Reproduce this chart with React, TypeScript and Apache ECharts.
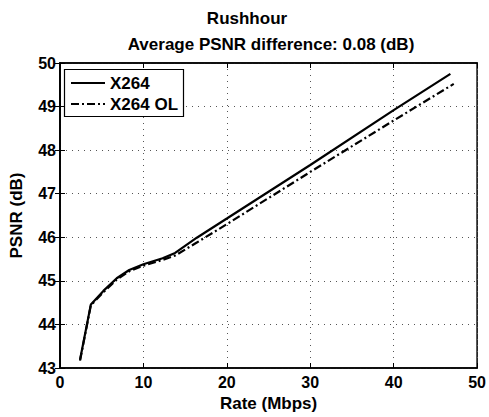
import React, { useEffect, useRef } from "react";
import * as echarts from "echarts";

const titleMain = "Rushhour";
const titleSub = "Average PSNR difference: 0.08 (dB)";
const seriesNames = ["X264", "X264 OL"];
const xTicks = [0, 10, 20, 30, 40, 50];
const yTicks = [43, 44, 45, 46, 47, 48, 49, 50];

const x264: [number, number][] = [
  [2.4, 43.19], [3.7, 44.46], [5.2, 44.77], [6.8, 45.06], [8.3, 45.25],
  [10, 45.38], [12.3, 45.52], [13.8, 45.64], [16.4, 45.99], [20, 46.43],
  [30, 47.66], [40, 48.92], [46.8, 49.75],
];
const x264ol: [number, number][] = [
  [2.4, 43.17], [3.7, 44.44], [5.2, 44.74], [6.8, 45.03], [8.3, 45.22],
  [10, 45.35], [12.3, 45.48], [13.8, 45.58], [16.4, 45.88], [20, 46.3],
  [30, 47.5], [40, 48.68], [47.2, 49.52],
];

const FONT = "Liberation Sans";
const DASHDOT = [8, 3, 2, 3];

export default function App() {
  const ref = useRef<HTMLDivElement>(null);
  useEffect(() => {
    if (!ref.current) return;
    const chart = echarts.init(ref.current, null, { renderer: "svg" });
    const gridLine = { show: true, lineStyle: { color: "#555", type: [1, 5], width: 1 } };
    const tickIn = { show: true, inside: true, length: 5, lineStyle: { color: "#000", width: 1 } };
    const nameStyle = { fontFamily: FONT, fontWeight: "bold", fontSize: 17, color: "#000" };
    const lblStyle = { fontFamily: FONT, fontWeight: "bold", fontSize: 16, color: "#000" };
    chart.setOption({
      animation: false,
      backgroundColor: "#fff",
      textStyle: { fontFamily: FONT },
      graphic: [
        { type: "text", x: 247, y: 18, style: { text: titleMain, font: `bold 17px ${FONT}`, fill: "#000", textAlign: "center", textVerticalAlign: "middle" } },
        { type: "text", x: 271, y: 44, style: { text: titleSub, font: `bold 17px ${FONT}`, fill: "#000", textAlign: "center", textVerticalAlign: "middle" } },
        { type: "rect", shape: { x: 64.5, y: 69.5, width: 119, height: 47 }, style: { fill: "#fff", stroke: "#000", lineWidth: 1.2 }, z: 100 },
        { type: "line", shape: { x1: 71, y1: 83, x2: 105, y2: 83 }, style: { stroke: "#000", lineWidth: 2.2 }, z: 101 },
        { type: "line", shape: { x1: 71, y1: 104, x2: 105, y2: 104 }, style: { stroke: "#000", lineWidth: 2.2, lineDash: DASHDOT }, z: 101 },
        { type: "text", x: 110, y: 83, style: { text: seriesNames[0], font: `bold 17px ${FONT}`, fill: "#000", textVerticalAlign: "middle" }, z: 101 },
        { type: "text", x: 110, y: 104, style: { text: seriesNames[1], font: `bold 17px ${FONT}`, fill: "#000", textVerticalAlign: "middle" }, z: 101 },
      ],
      grid: { left: 56, right: 9, top: 63, bottom: 42, show: true, borderColor: "#000", borderWidth: 1.5 },
      xAxis: [
        {
          type: "value", min: 0, max: 50, interval: 10,
          name: "Rate (Mbps)", nameLocation: "middle", nameGap: 27, nameTextStyle: nameStyle,
          axisLine: { show: true, lineStyle: { color: "#000", width: 1.5 } },
          axisTick: tickIn, splitLine: gridLine,
          axisLabel: { ...lblStyle, margin: 6,
            formatter: (v: number) => (xTicks.includes(v) ? String(v) : "") },
        },
        {
          type: "value", min: 0, max: 50, interval: 10, position: "top",
          axisLine: { show: true, lineStyle: { color: "#000", width: 1.5 } },
          axisTick: tickIn, splitLine: { show: false }, axisLabel: { show: false },
        },
      ],
      yAxis: [
        {
          type: "value", min: 43, max: 50, interval: 1,
          name: "PSNR (dB)", nameLocation: "middle", nameGap: 35, nameTextStyle: nameStyle,
          axisLine: { show: true, lineStyle: { color: "#000", width: 1.5 } },
          axisTick: tickIn, splitLine: gridLine,
          axisLabel: { ...lblStyle, margin: 4,
            formatter: (v: number) => (yTicks.includes(v) ? String(v) : "") },
        },
        {
          type: "value", min: 43, max: 50, interval: 1, position: "right",
          axisLine: { show: true, lineStyle: { color: "#000", width: 1.5 } },
          axisTick: tickIn, splitLine: { show: false }, axisLabel: { show: false },
        },
      ],
      series: [
        {
          name: seriesNames[0], type: "line", data: x264, symbol: "none",
          lineStyle: { color: "#000", width: 2.2, type: "solid" }, itemStyle: { color: "#000" },
        },
        {
          name: seriesNames[1], type: "line", data: x264ol, symbol: "none",
          lineStyle: { color: "#000", width: 2.2, type: DASHDOT }, itemStyle: { color: "#000" },
        },
      ],
    });
    return () => chart.dispose();
  }, []);
  return <div ref={ref} style={{ position: "fixed", left: 0, top: 0, width: 489, height: 417 }} />;
}
